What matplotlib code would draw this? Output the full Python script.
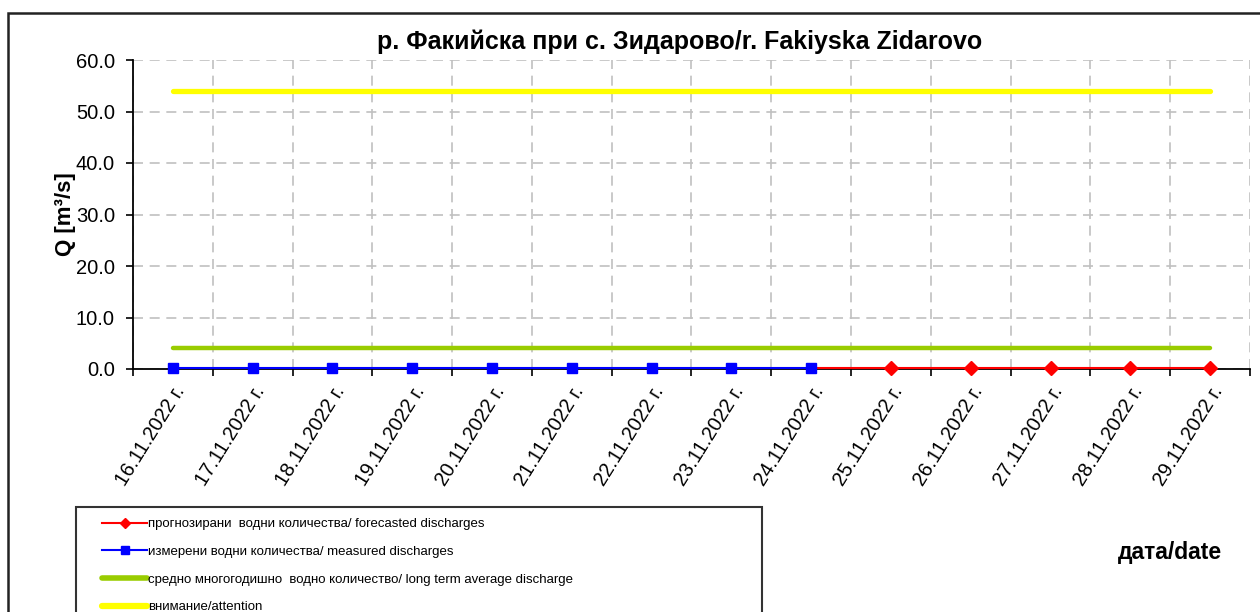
import matplotlib
matplotlib.use("Agg")
import numpy as np
import matplotlib.pyplot as plt
from matplotlib.patches import Rectangle
from matplotlib.lines import Line2D

dates = ["16.11.2022 г.", "17.11.2022 г.", "18.11.2022 г.", "19.11.2022 г.",
         "20.11.2022 г.", "21.11.2022 г.", "22.11.2022 г.", "23.11.2022 г.",
         "24.11.2022 г.", "25.11.2022 г.", "26.11.2022 г.", "27.11.2022 г.",
         "28.11.2022 г.", "29.11.2022 г."]
measured = [0.2, 0.2, 0.2, 0.2, 0.2, 0.2, 0.2, 0.2, 0.2]
forecast = [0.2, 0.2, 0.2, 0.2, 0.2, 0.2]   # 24.11 .. 29.11
long_term_avg = [4.0] * 14
attention = [54.0] * 14
yticks = [0, 10, 20, 30, 40, 50, 60]

title = "р. Факийска при с. Зидарово/r. Fakiyska Zidarovo"
labels = ["прогнозирани  водни количества/ forecasted discharges",
          "измерени водни количества/ measured discharges",
          "средно многогодишно  водно количество/ long term average discharge",
          "внимание/attention"]

plt.rcParams['font.family'] = ['Liberation Sans', 'DejaVu Sans']

W, H = 1260, 612
fig = plt.figure(figsize=(W / 100, H / 100), dpi=100)
ax = fig.add_axes([133 / W, 1 - 369 / H, (1250 - 133) / W, (369 - 60) / H])

n = len(dates)
x = list(range(n))
xm = x[:len(measured)]
xf = x[len(measured) - 1:len(measured) - 1 + len(forecast)]

ax.plot(x, attention, color='#ffff00', lw=3.8, solid_capstyle='round', zorder=3)
ax.plot(x, long_term_avg, color='#99cc00', lw=3.2, solid_capstyle='round', zorder=3)
ax.plot(xf, forecast, color='#ff0000', lw=1.5, zorder=4, clip_on=False)
ax.plot(xf[1:], forecast[1:], ls='none', marker='D', ms=7, color='#ff0000',
        zorder=5, clip_on=False)
ax.plot(xm, measured, color='#0000ff', lw=1.5, marker='s', ms=7.5, zorder=6,
        clip_on=False)

ax.set_xlim(-0.5, n - 0.5)
ax.set_ylim(0, 60)
ax.set_yticks(yticks)
ax.set_yticklabels([f"{v:.1f}" for v in yticks], fontsize=14.5)

ax.set_xticks([i + 0.5 for i in range(-1, n)], minor=False)
ax.set_xticklabels([])
ax.set_xticks(x, minor=True)
ax.set_xticklabels(dates, minor=True, rotation=58, ha='right', va='top',
                   rotation_mode='anchor', fontsize=14.3)
ax.tick_params(axis='x', which='minor', length=0, pad=10)
ax.tick_params(axis='x', which='major', direction='out', length=5, width=1.2)
ax.tick_params(axis='y', direction='out', length=5, width=1.2, pad=8)

ax.grid(True, which='major', axis='both', color='#c0c0c0', ls=(0, (6, 4)), lw=1.2)
ax.set_axisbelow(True)
for s in ['top', 'right']:
    ax.spines[s].set_visible(False)
for s in ['left', 'bottom']:
    ax.spines[s].set_linewidth(1.3)
    ax.spines[s].set_zorder(2)

ax.set_ylabel("Q [m³/s]", fontsize=16, fontweight='bold', va='center')
ax.yaxis.set_label_coords((65 - 133) / (1250 - 133), 0.5)
fig.text(680 / W, 1 - 42 / H, title, fontsize=18, fontweight='bold',
         ha='center', va='center')
fig.text(1170 / W, 1 - 552 / H, "дата/date", fontsize=16.5, fontweight='bold',
         ha='center', va='center')

# figure border
fig.patches.append(Rectangle((8 / W, -0.1), 1.2, 1 - 13 / H + 0.1,
                             transform=fig.transFigure, fill=False,
                             edgecolor='#222222', lw=1.8))

h_fc = Line2D([], [], color='#ff0000', lw=1.5, marker='D', ms=5)
h_ms = Line2D([], [], color='#0000ff', lw=1.5, marker='s', ms=6)
h_avg = Line2D([], [], color='#99cc00', lw=4, solid_capstyle='round')
h_att = Line2D([], [], color='#ffff00', lw=4.5, solid_capstyle='round')
leg_fs = 9.5
em = leg_fs * 100 / 72
pad_px = 11
leg = fig.legend([h_fc, h_ms, h_avg, h_att], labels,
                 loc='upper left',
                 bbox_to_anchor=(76 / W, -0.3, (762 - 76) / W, 1 - 507 / H + 0.3),
                 mode='expand', frameon=True, fancybox=False, edgecolor='black',
                 prop={'family': ['Liberation Sans Narrow', 'Liberation Sans', 'DejaVu Sans'],
                       'size': leg_fs},
                 handlelength=(148 - 76 - pad_px - 0.7) / em, handletextpad=0.05,
                 labelspacing=(28.3 - 0.97 * em) / em,
                 borderpad=pad_px / em, borderaxespad=0)
leg.get_frame().set_linewidth(1.5)
# shift handle lines to the right part of the handle box (leaves left margin)
px_per_pt = 100 / 72
for hl in leg.legend_handles:
    xd = np.asarray(hl.get_xdata(), dtype=float)
    x1 = xd.max()
    new_x0 = x1 - 45 / px_per_pt
    hl.set_xdata(np.linspace(new_x0, x1, len(xd)))

fig.savefig("out.png", dpi=100)
